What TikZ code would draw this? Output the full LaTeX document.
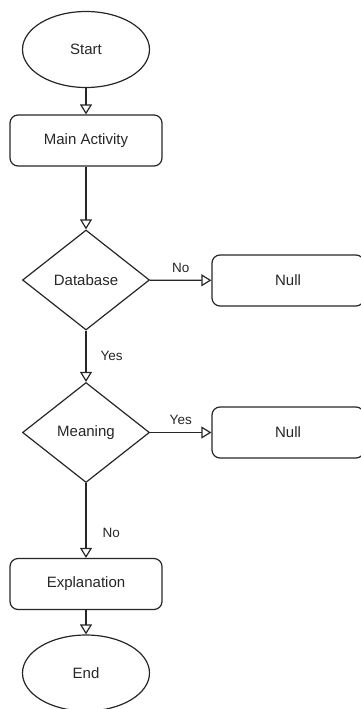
\documentclass[tikz,border=0pt]{standalone}
\usepackage{fontspec}
\setmainfont{Liberation Sans}
\usetikzlibrary{shapes.geometric,arrows.meta}
\tikzset{
  base/.style={draw=black!85, line width=1.2pt, font=\fontsize{15}{18}\selectfont, text=black!85, inner sep=0pt},
  terminal/.style={base, ellipse, minimum width=127pt, minimum height=76pt},
  process/.style={base, rectangle, rounded corners=8pt, minimum width=152pt, minimum height=51pt},
  decision/.style={base, diamond, aspect=1.27, minimum width=127pt, minimum height=100pt},
  flow/.style={draw=black!85, line width=1.2pt, -{Triangle[open, length=10pt, width=12pt, line width=1.2pt]}},
  lbl/.style={font=\fontsize{13.5}{16}\selectfont, text=black!85, inner sep=0pt}
}
\begin{document}
\begin{tikzpicture}[x=1pt,y=-1pt]
\useasboundingbox (0,0) rectangle (361,709);
\node[terminal] (start) at (86,49.5) {Start};
\node[process] (main) at (86,140.5) {Main Activity};
\node[decision] (db) at (86,280) {Database};
\node[process] (null1) at (288,280.5) {Null};
\node[decision] (mean) at (86,432.5) {Meaning};
\node[process] (null2) at (288,432.5) {Null};
\node[process] (expl) at (86,584) {Explanation};
\node[terminal] (end) at (86,673) {End};
\draw[flow] (start) -- (main);
\draw[flow] (main) -- (db);
\draw[flow] (db) -- node[lbl, pos=0.5, above=7pt] {No} (null1);
\draw[flow] (db) -- node[lbl, pos=0.5, anchor=west, xshift=14pt] {Yes} (mean);
\draw[flow] (mean) -- node[lbl, pos=0.5, above=7pt] {Yes} (null2);
\draw[flow] (mean) -- node[lbl, pos=0.67, anchor=west, xshift=16pt] {No} (expl);
\draw[flow] (expl) -- (end);
\end{tikzpicture}
\end{document}
